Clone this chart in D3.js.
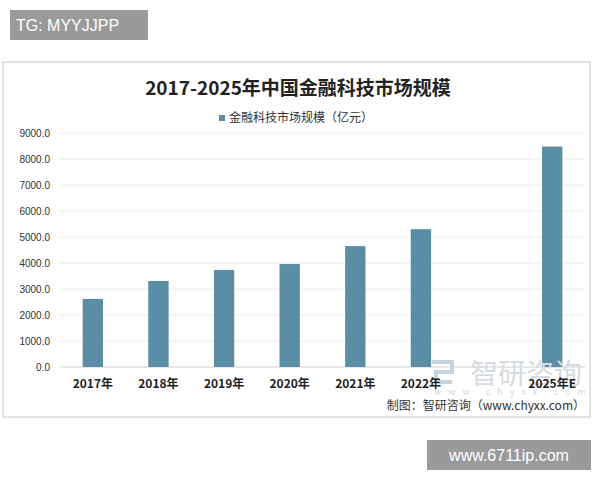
<!DOCTYPE html>
<html><head><meta charset="utf-8">
<script src="https://cdn.jsdelivr.net/npm/d3@7.9.0/dist/d3.min.js"></script>
<style>body{margin:0;background:#fff;font-family:"Noto Sans CJK SC",sans-serif}</style>
</head><body><svg width="600" height="480"></svg>
<script>
const years = ['2017年','2018年','2019年','2020年','2021年','2022年','','2025年E'];
const values = [2620, 3310, 3730, 3960, 4650, 5300, null, 8480];
const yTicks = [0,1000,2000,3000,4000,5000,6000,7000,8000,9000];

const svg = d3.select('svg');
// top label
svg.append('rect').attr('x',10).attr('y',10).attr('width',138).attr('height',30).attr('fill','#9a9a9a');
svg.append('text').attr('x',16).attr('y',31).attr('fill','#fff').attr('font-size',16)
  .attr('font-family','Liberation Sans, sans-serif').text('TG: MYYJJPP');
// frame
svg.append('rect').attr('x',3).attr('y',62).attr('width',587).attr('height',355)
  .attr('fill','#fff').attr('stroke','#c8c8c8');
svg.append('text').attr('x',298).attr('y',95).attr('text-anchor','middle').attr('font-size',19)
  .attr('font-weight','bold').attr('fill','#222').text('2017-2025年中国金融科技市场规模');
svg.append('rect').attr('x',219).attr('y',115).attr('width',6).attr('height',6).attr('fill','#5a8ea7');
svg.append('text').attr('x',229).attr('y',122).attr('font-size',12).attr('fill','#333').text('金融科技市场规模（亿元）');

const x = d3.scaleBand().domain(years).range([60,585]).paddingInner(0.69).paddingOuter(0.345);
const y = d3.scaleLinear().domain([0,9000]).range([367,133]);

const grid = svg.append('g');
grid.selectAll('line').data(yTicks).join('line')
  .attr('x1',60).attr('x2',585).attr('y1',d=>y(d)).attr('y2',d=>y(d))
  .attr('stroke',d=>d===0?'#d0d0d0':'#ececec');
svg.append('g').selectAll('text').data(yTicks).join('text')
  .attr('x',50).attr('y',d=>y(d)+4).attr('text-anchor','end').attr('font-size',10)
  .attr('font-family','Liberation Sans, sans-serif').attr('fill','#333').text(d=>d.toFixed(1));

svg.append('g').selectAll('rect').data(years.map((c,i)=>({c,v:values[i]})).filter(d=>d.v!=null)).join('rect')
  .attr('x',d=>x(d.c)).attr('width',x.bandwidth()).attr('y',d=>y(d.v)).attr('height',d=>y(0)-y(d.v))
  .attr('fill','#5a8ea7');

// watermark
svg.append('text').attr('x',470).attr('y',384).attr('font-size',28).attr('fill','#d5dbe0').text('智研咨询');
svg.append('text').attr('x',434).attr('y',395).attr('font-size',9).attr('fill','#d5dbe0').attr('letter-spacing',7).text('www.chyxx.com');
svg.append('path').attr('d','M432,362h20v10h-16v10h16').attr('fill','none').attr('stroke','#c9d3dc').attr('stroke-width',4);

svg.append('g').selectAll('text').data(years).join('text')
  .attr('x',d=>x(d)+x.bandwidth()/2).attr('y',388).attr('text-anchor','middle').attr('font-size',12)
  .attr('font-weight','bold').attr('fill','#222').text(d=>d);

svg.append('text').attr('x',585).attr('y',410).attr('text-anchor','end').attr('font-size',12)
  .attr('fill','#333').text('制图：智研咨询（www.chyxx.com）');

svg.append('rect').attr('x',427).attr('y',440).attr('width',164).attr('height',30).attr('fill','#9a9a9a');
svg.append('text').attr('x',509).attr('y',461).attr('text-anchor','middle').attr('fill','#fff').attr('font-size',16)
  .attr('font-family','Liberation Sans, sans-serif').text('www.6711ip.com');
</script></body></html>
